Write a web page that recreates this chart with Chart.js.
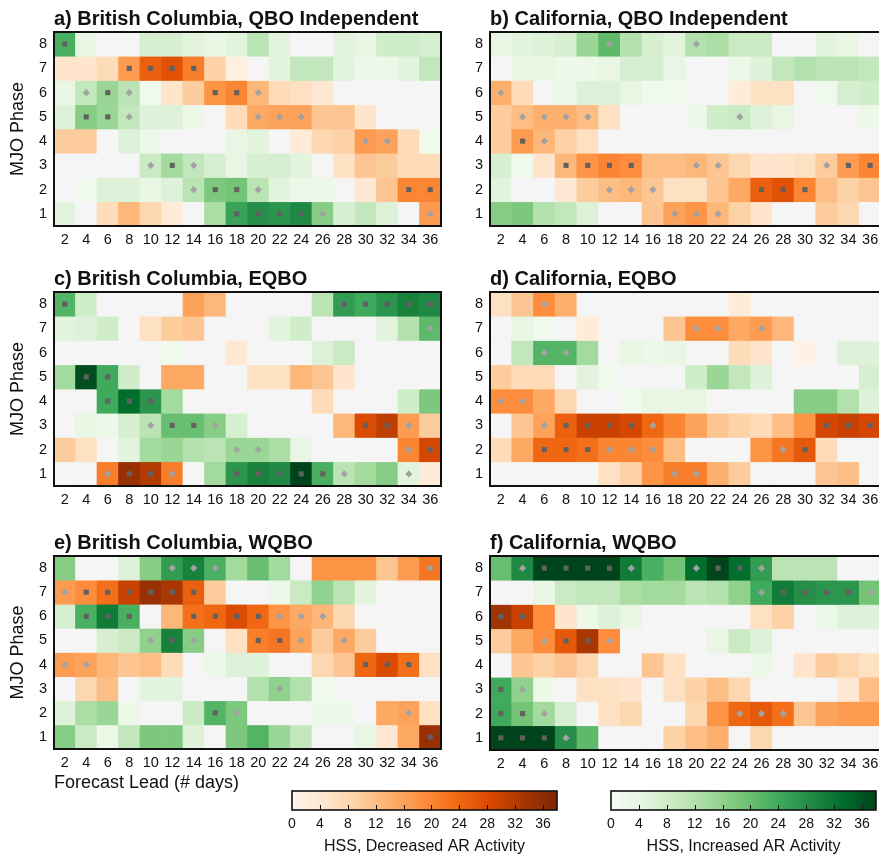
<!DOCTYPE html>
<html><head><meta charset="utf-8">
<script src="https://cdn.jsdelivr.net/npm/chart.js@4.4.0/dist/chart.umd.min.js"></script>
<style>
html,body{margin:0;padding:0;background:#fff;overflow:hidden;}
#wrap{position:relative;width:879px;height:855px;overflow:hidden;background:#fff;}
#wrap canvas{position:absolute;}
</style></head><body><div id="wrap"></div>
<script>
// ---------- categories / ticks ----------
const leads = ['2','4','6','8','10','12','14','16','18','20','22','24','26','28','30','32','34','36'];
const phases = [1,2,3,4,5,6,7,8];
const cbTicks = [0,4,8,12,16,20,24,28,32,36];
// values: rows listed top to bottom (phase 8 ... phase 1); + = increased (green), - = decreased (orange), null = not significant
// marks: 's' = square, 'd' = diamond, '.' = none
const bcIndepVals = [
  [23,4,null,null,7,7,5,4,5,11,5,null,null,5,4,8,8,7],
  [-5,-5,-7,-17,-25,-27,-21,-9,-2,null,5,10,10,5,3,3,5,10],
  [4,10,15,11,2,-5,-10,-18,-20,-13,-7,-6,-4,null,null,null,null,null],
  [6,17,15,10,6,6,3,null,-7,-15,-16,-16,-11,-11,-5,null,null,null],
  [-10,-10,null,6,3,null,null,null,4,5,null,-3,-8,-9,-17,-16,-7,2],
  [null,null,null,null,9,14,10,7,4,7,7,5,null,-6,-11,-10,-7,-7],
  [null,2,6,6,4,6,11,18,19,11,5,3,3,null,-4,-11,-20,-20],
  [5,null,-7,-13,-8,-3,null,13,25,28,27,29,17,7,10,6,null,-17]
];
const bcIndepMarks = ["s.................","...ssss...........",".dsd...ssd........",".ssd.....ddd......","..............dd..","....dsd...........","......dssd......ss","........ssssd....d"];

const caIndepVals = [
  [4,5,6,7,15,21,12,7,5,12,13,9,9,null,null,5,4,null],
  [null,4,4,3,3,4,7,7,4,null,null,3,6,10,12,11,11,10],
  [-14,-7,null,3,6,6,4,2,2,null,null,-3,-6,-6,null,2,7,8],
  [-10,-12,-14,-14,-12,-6,null,null,null,3,8,9,6,4,null,null,null,3],
  [-10,-17,-13,-9,-6,null,null,null,null,null,null,null,null,null,null,null,null,null],
  [7,2,-5,-13,-18,-20,-19,-12,-12,-13,-11,-8,-5,-5,-6,-10,-17,-20],
  [5,null,null,-4,-10,-12,-13,-11,-6,-6,-11,-15,-25,-27,-20,-12,-9,-11],
  [17,18,12,10,6,null,null,-11,-16,-18,-13,-9,-5,null,null,-10,-8,null]
];
const caIndepMarks = [".....d...d........","..................","d.................",".dddd......d......",".sd...............","...ssss..dd....dss",".....ddd....sss...","........ddd......."];

const bcEqboVals = [
  [22,8,null,null,null,null,-16,-13,null,null,null,null,11,26,24,27,30,29],
  [5,6,8,null,-6,-10,-11,null,null,null,5,8,null,null,null,5,12,21],
  [null,null,null,null,null,2,null,null,-4,null,null,null,6,9,null,null,null,null],
  [14,37,24,8,null,-15,-15,null,null,-6,-6,-13,-11,-5,null,null,null,null],
  [null,null,24,33,27,14,null,null,null,null,null,null,-7,null,null,null,8,18],
  [null,4,3,7,11,20,20,17,7,null,null,null,null,-13,-28,-31,-17,-10],
  [-10,-6,null,5,14,15,12,11,15,15,13,4,null,null,null,null,-20,-29],
  [null,null,-21,-35,-32,-21,null,14,27,30,29,38,23,11,14,17,5,-3]
];
const bcEqboMarks = ["s............sssss",".................d","..................",".ss...............","..sss.............","....dssd......ssd.","........dd......ds","..dssd..sssssd..d."];

const caEqboVals = [
  [-6,-11,-19,-14,null,null,null,null,null,null,null,-3,null,null,null,null,null,null],
  [null,4,2,null,-3,null,null,null,-11,-19,-19,-15,-17,-13,null,null,null,null],
  [null,10,22,22,14,null,4,3,4,null,null,-7,-5,null,-1,null,6,6],
  [-10,-7,-7,null,5,2,null,null,null,8,15,10,6,null,null,null,null,7],
  [-19,-19,-15,-8,null,null,2,4,4,4,null,null,null,null,17,17,12,6],
  [null,-11,-16,-25,-30,-30,-29,-24,-20,-16,-11,-9,-7,-12,-18,-29,-30,-29],
  [-7,-15,-24,-24,-23,-20,-20,-19,-12,null,null,null,-18,-22,-26,-7,null,null],
  [null,null,null,null,null,-6,-9,-18,-21,-21,-14,-10,null,null,null,-11,-12,null]
];
const caEqboMarks = ["..d...............",".........dd.d.....","..dd..............","..................","dd................","..dssssd.......sss","..sssddd.....ds...","........dd........"];

const bcWqboVals = [
  [17,null,null,6,17,26,30,23,14,20,14,null,-18,-18,-18,-11,-17,-22],
  [-17,-19,-23,-30,-35,-33,-25,-10,null,null,3,9,16,11,5,null,null,null],
  [7,23,31,23,null,-13,-23,-24,-28,-24,-18,-15,-13,-8,null,null,null,null],
  [null,null,7,9,16,30,17,null,-6,-21,-22,-16,-10,-15,-10,null,null,null],
  [-17,-16,-13,-11,-12,-7,null,3,6,6,null,null,-8,-11,-24,-28,-23,-6],
  [null,-8,-12,null,5,5,null,null,null,12,16,12,2,null,null,null,null,null],
  [6,13,15,3,null,null,9,22,18,null,null,null,3,3,null,-15,-16,-6],
  [17,9,3,10,18,18,6,null,18,22,15,10,null,null,4,-4,-15,-35]
];
const bcWqboMarks = [".....ddd.........d","dssssss...........",".sss..ssssddd.....","....dsd..ssd.d....","dd............sss.","..........d.......",".......sd.......d.",".................s"];

const caWqboVals = [
  [20,29,38,38,38,38,31,23,19,33,38,33,26,11,11,11,null,null],
  [null,null,4,9,10,10,13,14,14,11,12,16,24,31,28,27,27,19],
  [-34,-30,-19,-5,3,6,4,null,null,null,null,null,-6,-9,null,3,6,6],
  [-10,-15,-19,-26,-33,-19,null,null,null,null,4,9,6,null,null,null,null,null],
  [null,-11,-9,-11,-8,null,null,-11,-6,null,null,null,3,null,-5,-10,-8,-6],
  [24,16,3,null,-6,-6,-5,null,-6,-9,-12,-8,null,null,null,null,-4,-12],
  [24,19,14,7,null,-6,-8,null,null,-8,-18,-24,-26,-23,-11,-16,-17,-17],
  [38,38,38,28,21,null,null,null,-9,-12,-14,null,-8,null,null,null,null,null]
];
const caWqboMarks = [".dssssd..dssd.....","............dssssd","ss................","..dssd............","..................","sd................","ssd........ddd....","sssd.............."];

// ---------- styling ----------
const FAMILY = "'Liberation Sans', Arial, Helvetica, sans-serif";
const TXT = '#111111';
const GREY = '#f5f5f5';
const ORANGES = ['#fff5eb','#fee6ce','#fdd0a2','#fdae6b','#fd8d3c','#f16913','#d94801','#a63603','#7f2704'];
const GREENS = ['#f7fcf5','#e5f5e0','#c7e9c0','#a1d99b','#74c476','#41ab5d','#238b45','#006d2c','#00441b'];
const VMAX = 38;

function hex2rgb(h){return [parseInt(h.slice(1,3),16),parseInt(h.slice(3,5),16),parseInt(h.slice(5,7),16)];}
function cmap(stops, t){
  t = Math.max(0, Math.min(1, t));
  const pos = t*(stops.length-1);
  const i = Math.min(stops.length-2, Math.floor(pos));
  const f = pos - i;
  const a = hex2rgb(stops[i]), b = hex2rgb(stops[i+1]);
  const c = a.map((v,k)=>Math.round(v+(b[k]-v)*f));
  return 'rgb('+c.join(',')+')';
}
function cellColor(v){
  if (v === null || v === undefined) return GREY;
  return v > 0 ? cmap(GREENS, v/VMAX) : cmap(ORANGES, -v/VMAX);
}

const wrap = document.getElementById('wrap');
function mkCanvas(x,y,w,h){
  const c = document.createElement('canvas');
  c.width = w; c.height = h;
  c.style.left = x+'px'; c.style.top = y+'px';
  c.style.width = w+'px'; c.style.height = h+'px';
  wrap.appendChild(c);
  return c.getContext('2d');
}

const panelDecor = {
  id: 'panelDecor',
  afterDraw(chart, args, opts){
    const {ctx, chartArea:a} = chart;
    ctx.save();
    ctx.lineWidth = 2; ctx.strokeStyle = TXT;
    ctx.strokeRect(a.left, a.top, a.right-a.left, a.bottom-a.top);
    if (opts.title){
      ctx.fillStyle = TXT;
      ctx.font = 'bold 20px ' + FAMILY;
      ctx.textAlign = 'left'; ctx.textBaseline = 'alphabetic';
      ctx.fillText(opts.title, a.left, a.top - 7);
    }
    ctx.restore();
  }
};

const NOGRID = {display:false, drawTicks:false, tickLength:0};

function panel(box, title, vals, marks, opt){
  const ctx = mkCanvas(box.x, box.y, box.w, box.h);
  const datasets = [];
  vals.forEach((row, i) => {
    const phase = 8 - i;
    datasets.push({
      type: 'bar',
      data: row.map(() => [phase - 0.5, phase + 0.5]),
      backgroundColor: row.map(cellColor),
      borderWidth: 0,
      barPercentage: 1, categoryPercentage: 1, grouped: false,
      order: 2
    });
  });
  const sq = [], di = [];
  marks.forEach((s, i) => {
    const phase = 8 - i;
    for (let j = 0; j < s.length; j++){
      if (s[j] === 's') sq.push({x: leads[j], y: phase});
      else if (s[j] === 'd') di.push({x: leads[j], y: phase});
    }
  });
  datasets.push({type:'line', showLine:false, data: di, pointStyle:'rectRot', pointRadius:3.6,
    backgroundColor:'#a2a2a2', borderWidth:0, order:1});
  datasets.push({type:'line', showLine:false, data: sq, pointStyle:'rect', pointRadius:3.6,
    backgroundColor:'#616161', borderWidth:0, order:0});

  new Chart(ctx, {
    type: 'bar',
    data: { labels: leads, datasets },
    options: {
      responsive:false, animation:false, events:[],
      layout: { padding: { left:0, top:opt.padTop, right:opt.padRight, bottom:0 } },
      plugins: { legend:{display:false}, tooltip:{enabled:false}, panelDecor:{title} },
      scales: {
        x: {
          type:'category', offset:true,
          grid:NOGRID, border:{display:false},
          ticks:{ color:TXT, font:{family:FAMILY, size:14.5}, padding:5, maxRotation:0, autoSkip:false },
          title: opt.xTitle ? { display:true, text:opt.xTitle, align:'start', color:TXT,
                   font:{family:FAMILY, size:18, lineHeight:1.2}, padding:{top:0,bottom:0} } : {display:false},
          afterFit: s => { s.height = opt.xH; }
        },
        y: {
          type:'linear', min:0.5, max:8.5,
          grid:NOGRID, border:{display:false},
          afterBuildTicks: s => { s.ticks = phases.map(v => ({value:v})); },
          ticks:{ color:TXT, font:{family:FAMILY, size:14.5}, padding:7 },
          title: opt.yTitle ? { display:true, text:'MJO Phase', color:TXT,
                   font:{family:FAMILY, size:18, lineHeight:1.2}, padding:{top:7,bottom:0} } : {display:false},
          afterFit: s => { s.width = opt.yW; }
        }
      }
    },
    plugins: [panelDecor]
  });
}

const L = {padRight:1, yW:54, yTitle:true};
const R = {padRight:3, yW:45, yTitle:false};
panel({x:0,y:0,w:445,h:250}, 'a) British Columbia, QBO Independent', bcIndepVals, bcIndepMarks, Object.assign({padTop:32, xH:24}, L));
panel({x:445,y:0,w:440,h:250}, 'b) California, QBO Independent', caIndepVals, caIndepMarks, Object.assign({padTop:32, xH:24}, R));
panel({x:0,y:260,w:445,h:250}, 'c) British Columbia, EQBO', bcEqboVals, bcEqboMarks, Object.assign({padTop:32, xH:24}, L));
panel({x:445,y:260,w:440,h:250}, 'd) California, EQBO', caEqboVals, caEqboMarks, Object.assign({padTop:32, xH:24}, R));
panel({x:0,y:524,w:445,h:270}, 'e) British Columbia, WQBO', bcWqboVals, bcWqboMarks, Object.assign({padTop:32, xH:45, xTitle:'Forecast Lead (# days)'}, L));
panel({x:445,y:524,w:440,h:250}, 'f) California, WQBO', caWqboVals, caWqboMarks, Object.assign({padTop:32, xH:24}, R));

// ---------- colorbars ----------
const cbDecor = {
  id: 'cbDecor',
  afterDraw(chart, args, opts){
    const {ctx, chartArea:a} = chart;
    const xs = chart.scales.x;
    const x0 = xs.getPixelForValue(0), x1 = xs.getPixelForValue(VMAX);
    const g = ctx.createLinearGradient(x0, 0, x1, 0);
    opts.stops.forEach((c, i) => g.addColorStop(i/(opts.stops.length-1), c));
    ctx.save();
    ctx.fillStyle = g;
    ctx.fillRect(a.left, a.top, a.right-a.left, a.bottom-a.top);
    ctx.strokeStyle = TXT; ctx.lineWidth = 1;
    cbTicks.forEach(v => {
      if (v === 0) return;
      const px = Math.round(xs.getPixelForValue(v)) + 0.5;
      ctx.beginPath(); ctx.moveTo(px, a.bottom); ctx.lineTo(px, a.bottom - 5); ctx.stroke();
    });
    ctx.lineWidth = 1.6;
    ctx.strokeRect(a.left, a.top, a.right-a.left, a.bottom-a.top);
    ctx.restore();
  }
};
function colorbar(x, stops, label){
  const ctx = mkCanvas(x, 779, 292, 76);
  new Chart(ctx, {
    type:'scatter',
    data:{datasets:[]},
    options:{
      responsive:false, animation:false, events:[],
      layout:{padding:{left:12, right:15, top:12, bottom:0}},
      plugins:{legend:{display:false}, tooltip:{enabled:false}, cbDecor:{stops}},
      scales:{
        x:{ type:'linear', min:0, max:VMAX, grid:NOGRID, border:{display:false},
            afterBuildTicks: s => { s.ticks = cbTicks.map(v => ({value:v})); },
            ticks:{ color:TXT, font:{family:FAMILY, size:14}, padding:6, maxRotation:0 },
            title:{ display:true, text:label, color:TXT, font:{family:FAMILY, size:16, lineHeight:1}, padding:{top:0,bottom:0} },
            afterFit: s => { s.height = 45; } },
        y:{ display:false, min:0, max:1 }
      }
    },
    plugins:[cbDecor]
  });
}
colorbar(280, ORANGES, 'HSS, Decreased AR Activity');
colorbar(599, GREENS, 'HSS, Increased AR Activity');
</script>
</body></html>
